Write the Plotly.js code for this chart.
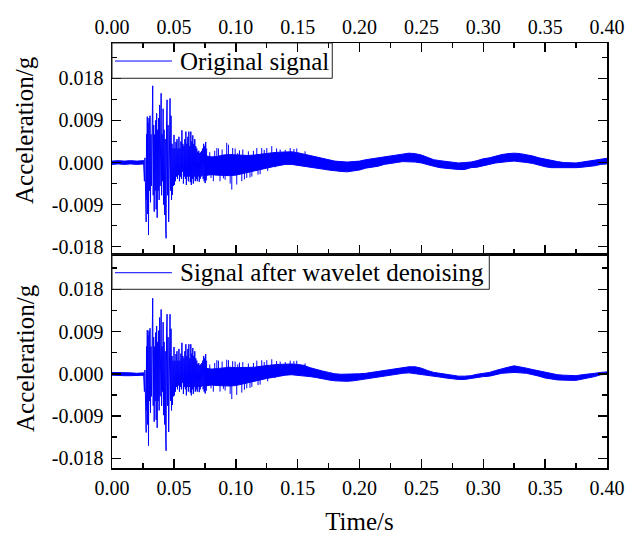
<!DOCTYPE html>
<html><head><meta charset="utf-8">
<script src="https://cdn.plot.ly/plotly-3.0.1.min.js"></script>
<style>html,body{margin:0;padding:0;background:#fff}#chart{width:626px;height:538px}</style>
</head><body><div id="chart"></div>
<script>
// ---- data (time in s, acceleration in g) ----
const preT = [0, 0.005, 0.010, 0.015, 0.020, 0.0258];
const preOrigUp = [0.0003, 0.0004, 0.0003, 0.0004, 0.0003, 0.0004];
const preOrigLo = [-0.0004, -0.0003, -0.0004, -0.0003, -0.0004, -0.0003];
const preDenUp = [0.0003, 0.0003, 0.0002, 0.0002, 0.0001, 0.0002];
const preDenLo = [-0.0003, -0.0003, -0.0004, -0.0004, -0.0004, -0.0003];

const burstT = [0.0255,0.0262,0.0266,0.0270,0.0273,0.0276,0.0279,0.0282,0.0285,0.0288,
0.0291,0.0295,0.0299,0.0303,0.0307,0.0311,0.0315,0.0319,0.0324,0.0329,
0.0333,0.0337,0.0341,0.0345,0.0349,0.0353,0.0357,0.0361,0.0365,0.0369,
0.0373,0.0377,0.0381,0.0385,0.0389,0.0393,0.0397,0.0401,0.0405,0.0409,
0.0413,0.0417,0.0421,0.0426,0.0430,0.0434,0.0437,0.0441,0.0445,0.0449,
0.0453,0.0458,0.0462,0.0466,0.0469,0.0473,0.0477,0.0481,0.0485,0.0489,
0.0493,0.0497,0.0501,0.0505,0.0509,0.0513,0.0517,0.0521,0.0525,0.0529,
0.0533,0.0537,0.0541,0.0545,0.0549,0.0553,0.0557,0.0561,0.0565,0.0569,
0.0573,0.0577,0.0581,0.0585,0.0589,0.0593,0.0597,0.0601,0.0605,0.0609,
0.0613,0.0617,0.0621,0.0625,0.0629,0.0633,0.0637,0.0641,0.0645,0.0649,
0.0653,0.0657,0.0661,0.0665,0.0669,0.0673,0.0677,0.0681,0.0685,0.0689,
0.0693,0.0697,0.0701,0.0705,0.0709,0.0713,0.0717,0.0721,0.0725,0.0729,
0.0733,0.0737,0.0741,0.0745,0.0749,0.0753,0.0757,0.0761,0.0765];

const burstOrig = [0.0000,-0.0040,0.0010,-0.0062,-0.0020,-0.0127,0.0060,-0.0080,0.0098,-0.0110,
0.0085,-0.0155,0.0095,-0.0060,0.0100,-0.0085,0.0060,-0.0050,0.0120,0.0164,
-0.0070,0.0080,-0.0105,0.0060,-0.0060,0.0090,-0.0100,0.0105,-0.0118,0.0070,
-0.0060,0.0095,-0.0080,0.0123,-0.0050,0.0110,0.0148,-0.0070,0.0060,-0.0040,
0.0115,-0.0090,0.0070,-0.0112,0.0050,-0.0140,-0.0162,0.0090,0.0134,-0.0070,
0.0080,-0.0127,0.0060,0.0120,0.0137,-0.0060,0.0100,-0.0080,0.0040,-0.0069,
0.0030,-0.0050,0.0059,-0.0048,0.0030,-0.0040,0.0044,-0.0030,0.0050,-0.0035,
0.0030,-0.0027,0.0055,-0.0040,0.0030,-0.0030,0.0045,-0.0035,0.0069,-0.0020,
0.0040,-0.0045,0.0035,-0.0030,0.0050,-0.0035,0.0066,-0.0048,0.0040,-0.0030,
0.0055,-0.0040,0.0066,-0.0030,0.0035,-0.0042,0.0066,-0.0048,0.0045,-0.0035,
0.0058,-0.0045,0.0040,-0.0030,0.0050,-0.0040,0.0035,-0.0035,0.0030,-0.0040,
0.0023,-0.0030,0.0025,-0.0041,0.0020,-0.0035,0.0022,-0.0030,0.0025,-0.0028,
0.0030,-0.0035,0.0040,-0.0040,0.0035,-0.0044,0.0044,-0.0038,0.0030];

const burstDen = [0.0000,-0.0038,0.0008,-0.0060,-0.0020,-0.0125,0.0058,-0.0078,0.0093,-0.0108,
0.0082,-0.0153,0.0092,-0.0058,0.0097,-0.0083,0.0058,-0.0048,0.0118,0.0161,
-0.0068,0.0078,-0.0102,0.0058,-0.0058,0.0088,-0.0098,0.0102,-0.0115,0.0068,
-0.0058,0.0092,-0.0078,0.0120,-0.0048,0.0105,0.0137,-0.0068,0.0058,-0.0038,
0.0110,-0.0088,0.0068,-0.0108,0.0048,-0.0138,-0.0164,0.0088,0.0127,-0.0068,
0.0078,-0.0124,0.0058,0.0115,0.0127,-0.0058,0.0096,-0.0078,0.0038,-0.0066,
0.0028,-0.0048,0.0057,-0.0046,0.0028,-0.0038,0.0042,-0.0028,0.0048,-0.0033,
0.0028,-0.0025,0.0053,-0.0038,0.0028,-0.0028,0.0043,-0.0033,0.0066,-0.0019,
0.0038,-0.0043,0.0033,-0.0028,0.0048,-0.0033,0.0063,-0.0046,0.0038,-0.0028,
0.0053,-0.0038,0.0063,-0.0028,0.0033,-0.0040,0.0063,-0.0046,0.0043,-0.0033,
0.0055,-0.0043,0.0038,-0.0028,0.0048,-0.0038,0.0033,-0.0033,0.0028,-0.0038,
0.0021,-0.0028,0.0023,-0.0039,0.0018,-0.0033,0.0020,-0.0028,0.0023,-0.0026,
0.0028,-0.0033,0.0038,-0.0038,0.0033,-0.0042,0.0042,-0.0036,0.0028];

// dense core of the decaying tail: upper / lower envelope every 0.005 s
const tailT = [0.075,0.080,0.085,0.090,0.095,0.100,0.105,0.110,0.115,0.120,
0.125,0.130,0.135,0.140,0.145,0.150,0.155,0.160,0.165,0.170,
0.175,0.180,0.185,0.190,0.195,0.200,0.205,0.210,0.215,0.220,
0.225,0.230,0.235,0.240,0.245,0.250,0.255,0.260,0.265,0.270,
0.275,0.280,0.285,0.290,0.295,0.300,0.305,0.310,0.315,0.320,
0.325,0.330,0.335,0.340,0.345,0.350,0.355,0.360,0.365,0.370,
0.375,0.380,0.385,0.390,0.395,0.400];

const tailOrigUp = [0.0015,0.0012,0.0013,0.0016,0.0017,0.0016,0.0015,0.0015,0.0016,0.0018,
0.0020,0.0021,0.0022,0.0023,0.0023,0.0021,0.0018,0.0015,0.0011,0.0008,
0.0005,0.0003,0.0002,0.0001,0.0002,0.0003,0.0006,0.0008,0.0010,0.0013,
0.0015,0.0017,0.0019,0.0020,0.0019,0.0016,0.0011,0.0006,0.0004,0.0002,
0.0000,-0.0001,0.0000,0.0001,0.0004,0.0008,0.0010,0.0014,0.0017,0.0019,
0.0020,0.0019,0.0017,0.0014,0.0010,0.0007,0.0004,0.0002,0.0000,-0.0001,
-0.0001,0.0001,0.0003,0.0006,0.0008,0.0009];

const tailOrigLo = [-0.0028,-0.0026,-0.0027,-0.0028,-0.0028,-0.0027,-0.0025,-0.0022,-0.0018,-0.0015,
-0.0012,-0.0009,-0.0006,-0.0004,-0.0004,-0.0005,-0.0007,-0.0009,-0.0012,-0.0014,
-0.0016,-0.0018,-0.0019,-0.0020,-0.0018,-0.0016,-0.0012,-0.0010,-0.0008,-0.0004,
-0.0002,0.0000,0.0002,0.0002,0.0001,-0.0001,-0.0004,-0.0008,-0.0011,-0.0012,
-0.0014,-0.0015,-0.0015,-0.0011,-0.0010,-0.0007,-0.0004,-0.0001,0.0001,0.0002,
0.0003,0.0002,0.0000,-0.0002,-0.0005,-0.0009,-0.0011,-0.0011,-0.0011,-0.0011,
-0.0011,-0.0010,-0.0009,-0.0007,-0.0004,-0.0003];

const tailDenUp = [0.0012,0.0010,0.0011,0.0013,0.0014,0.0013,0.0013,0.0013,0.0014,0.0016,
0.0018,0.0019,0.0020,0.0021,0.0021,0.0020,0.0018,0.0013,0.0009,0.0006,
0.0003,0.0000,-0.0001,-0.0001,-0.0001,0.0000,0.0001,0.0003,0.0005,0.0007,
0.0010,0.0012,0.0014,0.0015,0.0015,0.0012,0.0007,0.0003,0.0001,-0.0001,
-0.0003,-0.0005,-0.0005,-0.0004,-0.0001,0.0001,0.0003,0.0007,0.0011,0.0014,
0.0017,0.0015,0.0012,0.0009,0.0006,0.0003,0.0000,-0.0002,-0.0003,-0.0004,
-0.0004,-0.0002,-0.0001,0.0001,0.0003,0.0004];

const tailDenLo = [-0.0026,-0.0024,-0.0025,-0.0026,-0.0026,-0.0025,-0.0023,-0.0020,-0.0016,-0.0013,
-0.0010,-0.0008,-0.0005,-0.0003,-0.0002,-0.0003,-0.0005,-0.0006,-0.0008,-0.0010,
-0.0013,-0.0015,-0.0016,-0.0016,-0.0015,-0.0014,-0.0012,-0.0009,-0.0007,-0.0005,
-0.0003,-0.0001,0.0001,0.0002,0.0001,-0.0001,-0.0003,-0.0005,-0.0007,-0.0009,
-0.0011,-0.0012,-0.0012,-0.0010,-0.0008,-0.0006,-0.0005,-0.0002,0.0001,0.0002,
0.0003,0.0002,0.0001,-0.0002,-0.0005,-0.0009,-0.0011,-0.0013,-0.0014,-0.0014,
-0.0014,-0.0011,-0.0009,-0.0006,-0.0002,-0.0001];

// isolated spikes sticking out of the tail core (time, peak value)
const spikeT = [0.0790,0.0800,0.0819,0.0830,0.0847,0.0860,0.0873,0.0890,0.0900,0.0914,
0.0927,0.0941,0.0955,0.0968,0.0975,0.0995,0.1008,0.1016,0.1030,0.1049,
0.1057,0.1070,0.1089,0.1102,0.1115,0.1130,0.1143,0.1170,0.1180,0.1197,
0.1210,0.1230,0.1251,0.1258,0.1291,0.1318,0.1330,0.1359,0.1400,0.1440,
0.1470,0.1493,0.1560];
const spikeOrig = [0.0022,-0.0033,-0.0040,0.0025,0.0031,0.0030,-0.0040,0.0028,-0.0034,-0.0037,
0.0042,0.0038,-0.0045,-0.0058,0.0031,0.0030,-0.0047,0.0020,0.0026,-0.0040,
0.0028,-0.0036,-0.0033,0.0024,-0.0032,-0.0030,0.0025,0.0031,-0.0026,-0.0025,
0.0031,0.0027,0.0031,-0.0018,0.0035,-0.0010,0.0030,0.0028,0.0027,0.0031,
0.0029,0.0030,0.0024];
const spikeDen = [0.0020,-0.0031,-0.0038,0.0023,0.0029,0.0028,-0.0038,0.0026,-0.0032,-0.0036,
0.0030,0.0029,-0.0043,-0.0054,0.0027,0.0026,-0.0045,0.0020,0.0024,-0.0040,
0.0025,-0.0034,-0.0031,0.0022,-0.0030,-0.0028,0.0023,0.0028,-0.0024,-0.0023,
0.0029,0.0025,0.0029,-0.0016,0.0031,-0.0009,0.0027,0.0026,0.0025,0.0028,
0.0027,0.0028,0.0022];

const yTickVals = [-0.018, -0.009, 0, 0.009, 0.018];
const yTickText = ['-0.018', '-0.009', '0.000', '0.009', '0.018'];
const xTickVals = [0, 0.05, 0.10, 0.15, 0.20, 0.25, 0.30, 0.35, 0.40];
const xTickText = ['0.00', '0.05', '0.10', '0.15', '0.20', '0.25', '0.30', '0.35', '0.40'];
const seriesNames = ['Original signal', 'Signal after wavelet denoising'];
const yTitle = 'Acceleration/g';
const xTitle = 'Time/s';

// ---- drawing ----
const BLUE = '#0000ff';
const FONT = 'Liberation Serif, Times New Roman, serif';

function band(t, up, lo, xa, ya) {
  return {
    x: t.concat(t.slice().reverse()),
    y: up.concat(lo.slice().reverse()),
    type: 'scatter', mode: 'lines', fill: 'toself', fillcolor: BLUE,
    line: {color: BLUE, width: 1}, xaxis: xa, yaxis: ya,
    hoverinfo: 'skip', showlegend: false
  };
}
function zig(t, v, xa, ya) {
  return {
    x: t, y: v, type: 'scatter', mode: 'lines',
    line: {color: BLUE, width: 1}, xaxis: xa, yaxis: ya,
    hoverinfo: 'skip', showlegend: false
  };
}
function stems(t, v, xa, ya) {
  const xs = [], ys = [];
  t.forEach((ti, i) => { xs.push(ti, ti, null); ys.push(0, v[i], null); });
  return {
    x: xs, y: ys, type: 'scatter', mode: 'lines', connectgaps: false,
    line: {color: BLUE, width: 1}, xaxis: xa, yaxis: ya,
    hoverinfo: 'skip', showlegend: false
  };
}

const data = [
  band(preT, preOrigUp, preOrigLo, 'x', 'y'),
  zig(burstT, burstOrig, 'x', 'y'),
  band(tailT, tailOrigUp, tailOrigLo, 'x', 'y'),
  stems(spikeT, spikeOrig, 'x', 'y'),
  band(preT, preDenUp, preDenLo, 'x2', 'y2'),
  zig(burstT, burstDen, 'x2', 'y2'),
  band(tailT, tailDenUp, tailDenLo, 'x2', 'y2'),
  stems(spikeT, spikeDen, 'x2', 'y2')
];

const tickFont = {family: FONT, size: 20, color: '#000'};
function xAxis(side, anchor, mirror) {
  return {
    anchor: anchor, side: side, domain: [0, 1], range: [0, 0.4],
    tickmode: 'array', tickvals: xTickVals, ticktext: xTickText,
    ticks: 'inside', ticklen: 9, tickwidth: 1.5, tickcolor: '#000',
    minor: {tickmode: 'linear', tick0: 0, dtick: 0.025, ticks: 'inside', ticklen: 5, tickwidth: 1.5, tickcolor: '#000', showgrid: false},
    showline: true, linewidth: 1.5, linecolor: '#000', mirror: mirror,
    showgrid: false, zeroline: false, tickfont: tickFont, fixedrange: true
  };
}
function yAxis(domain, anchor, range) {
  return {
    anchor: anchor, domain: domain, range: range,
    tickmode: 'array', tickvals: yTickVals, ticktext: yTickText,
    ticks: 'inside', ticklen: 9, tickwidth: 1.5, tickcolor: '#000',
    minor: {tickmode: 'linear', tick0: 0, dtick: 0.0045, ticks: 'inside', ticklen: 5, tickwidth: 1.5, tickcolor: '#000', showgrid: false},
    showline: true, linewidth: 1.5, linecolor: '#000', mirror: 'ticks',
    showgrid: false, zeroline: false, tickfont: tickFont, fixedrange: true,
    ticklabelstandoff: 3
  };
}

const SPLIT = 0.5035;
const xa1 = xAxis('top', 'y', 'ticks');
const xa2 = xAxis('bottom', 'y2', true);
xa2.ticklabelstandoff = 1;
xa2.title = {text: xTitle, font: {family: FONT, size: 25, color: '#000'}, standoff: 15};

const layout = {
  width: 626, height: 538,
  margin: {l: 112, r: 19, t: 43, b: 70},
  paper_bgcolor: '#fff', plot_bgcolor: '#fff',
  showlegend: false,
  xaxis: xa1,
  xaxis2: xa2,
  yaxis: yAxis([SPLIT, 1], 'x', [-0.01956, 0.02555]),
  yaxis2: yAxis([0, SPLIT], 'x2', [-0.02007, 0.02552]),
  shapes: [
    {type: 'rect', xref: 'paper', yref: 'paper', x0: 0, x1: 0.445, y0: 0.917, y1: 1, line: {color: '#222', width: 1}},
    {type: 'line', xref: 'paper', yref: 'paper', x0: 0.006, x1: 0.121, y0: 0.9576, y1: 0.9576, line: {color: BLUE, width: 1}},
    {type: 'rect', xref: 'paper', yref: 'paper', x0: 0, x1: 0.7622, y0: 0.4205, y1: SPLIT, line: {color: '#222', width: 1}},
    {type: 'line', xref: 'paper', yref: 'paper', x0: 0.006, x1: 0.121, y0: 0.4595, y1: 0.4595, line: {color: BLUE, width: 1}}
  ],
  annotations: [
    {text: seriesNames[0], xref: 'paper', yref: 'paper', x: 0.1333, y: 0.9576, xanchor: 'left', yanchor: 'middle', showarrow: false, font: {family: FONT, size: 25, color: '#000'}},
    {text: seriesNames[1], xref: 'paper', yref: 'paper', x: 0.1333, y: 0.4595, xanchor: 'left', yanchor: 'middle', showarrow: false, font: {family: FONT, size: 25, color: '#000'}},
    {text: yTitle, xref: 'paper', yref: 'paper', x: -0.1758, y: 0.7953, xanchor: 'center', yanchor: 'middle', textangle: -90, showarrow: false, font: {family: FONT, size: 25, color: '#000'}},
    {text: yTitle, xref: 'paper', yref: 'paper', x: -0.1758, y: 0.2588, xanchor: 'center', yanchor: 'middle', textangle: -90, showarrow: false, font: {family: FONT, size: 25, color: '#000'}}
  ]
};

Plotly.newPlot('chart', data, layout, {staticPlot: true, displayModeBar: false});
</script>
</body></html>
